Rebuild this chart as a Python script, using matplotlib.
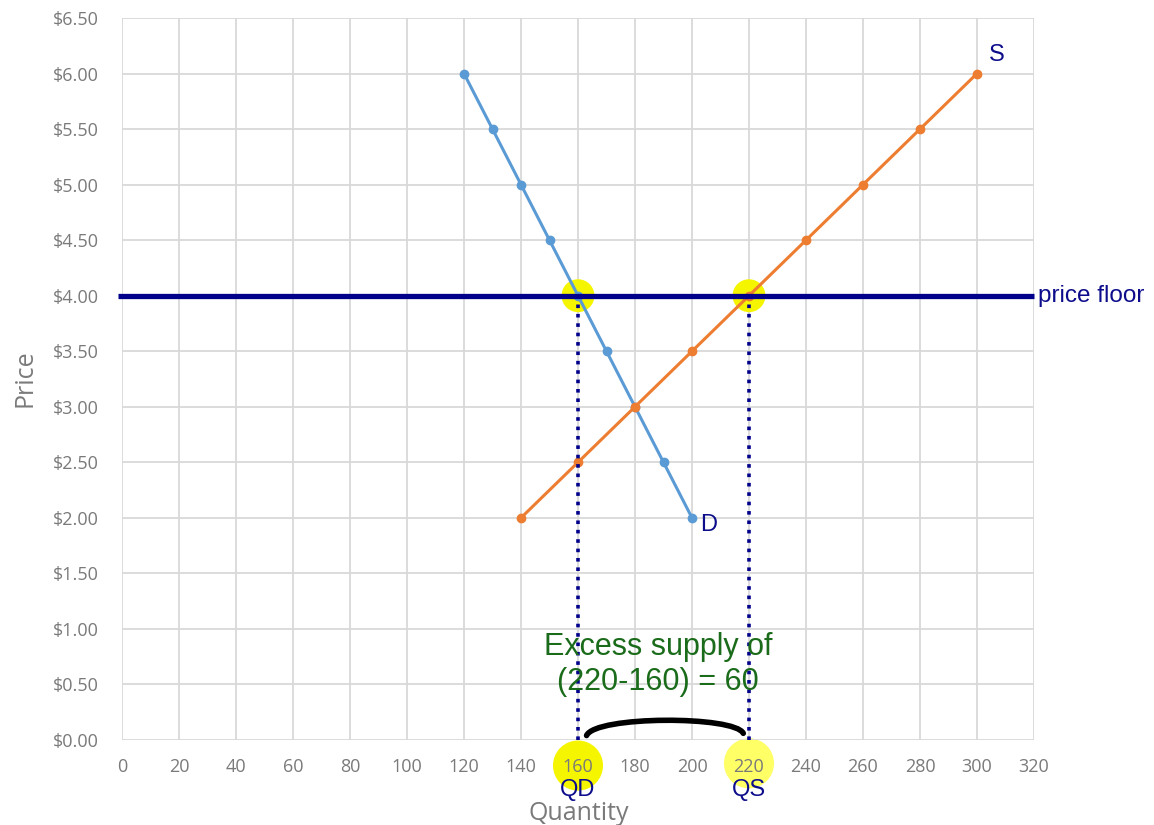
import matplotlib
matplotlib.use("Agg")
import matplotlib.pyplot as plt
from matplotlib.path import Path
import matplotlib.patches as mpatches

demand_q = [120, 130, 140, 150, 160, 170, 180, 190, 200]
demand_p = [6.0, 5.5, 5.0, 4.5, 4.0, 3.5, 3.0, 2.5, 2.0]
supply_q = [140, 160, 180, 200, 220, 240, 260, 280, 300]
supply_p = [2.0, 2.5, 3.0, 3.5, 4.0, 4.5, 5.0, 5.5, 6.0]
price_floor = 4.0
qd = 160
qs = 220
x_ticks = list(range(0, 321, 20))
y_ticks = [i * 0.5 for i in range(14)]

fig = plt.figure(figsize=(11.54, 8.25), dpi=100)
ax = fig.add_axes([122/1154, 85/825, (1034-122)/1154, (740-18)/825])
ax.set_xlim(0, 320)
ax.set_ylim(0, 6.5)
ax.set_xticks(x_ticks)
ax.set_yticks(y_ticks)
ax.set_xticklabels([str(t) for t in x_ticks])
ax.set_yticklabels([f"${t:.2f}" for t in y_ticks])
ax.tick_params(length=0, labelsize=13, labelcolor="#7a7a7a")
ax.tick_params(axis="x", pad=13)
ax.tick_params(axis="y", pad=17)
for lab in ax.get_xticklabels() + ax.get_yticklabels():
    lab.set_family("Open Sans")
ax.grid(True, color="#d9d9d9", linewidth=1.3)
ax.set_axisbelow(True)
for s in ax.spines.values():
    s.set_visible(False)

# highlight circles
ax.scatter([qd, qs], [price_floor, price_floor], s=560, color="#f5f500", zorder=2, edgecolors="none")
ax.scatter([qd], [-0.23], s=1300, color="#f5f500", zorder=0.2, edgecolors="none", clip_on=False)
ax.scatter([qs], [-0.21], s=1300, color="#ffff66", zorder=0.2, edgecolors="none", clip_on=False)

ax.plot(demand_q, demand_p, color="#5b9bd5", linewidth=2.2, marker="o", markersize=6, zorder=3)
ax.plot(supply_q, supply_p, color="#ed7d31", linewidth=2.2, marker="o", markersize=6, zorder=3)

ax.plot([-1.5, 320], [price_floor, price_floor], color="#00008b", linewidth=3.8, zorder=4,
        solid_capstyle="butt", clip_on=False)
ax.plot([qd, qd], [0, price_floor], color="#00008b", linewidth=2.6, linestyle=(0, (1, 1.6)), zorder=4)
ax.plot([qs, qs], [0, price_floor], color="#00008b", linewidth=2.6, linestyle=(0, (1, 1.6)), zorder=4)

# bracket
verts = [(163, 0.04), (166, 0.22), (215, 0.22), (218, 0.06)]
path = Path(verts, [Path.MOVETO, Path.CURVE4, Path.CURVE4, Path.CURVE4])
ax.add_patch(mpatches.PathPatch(path, fill=False, color="black", linewidth=4, capstyle="round", zorder=5))

navy = "#0d0d8c"
ax.text(321.5, price_floor, "price floor", color=navy, fontsize=17.5, family="Liberation Sans",
        va="center", ha="left", clip_on=False)
ax.text(203, 1.94, "D", color=navy, fontsize=17, family="Liberation Sans", va="center", ha="left")
ax.text(304, 6.17, "S", color=navy, fontsize=17, family="Liberation Sans", va="center", ha="left")
ax.text(qd, -0.45, "QD", color=navy, fontsize=17, family="Liberation Sans", va="center", ha="center", clip_on=False)
ax.text(qs, -0.45, "QS", color=navy, fontsize=17, family="Liberation Sans", va="center", ha="center", clip_on=False)
ax.text(188, 0.68, "Excess supply of\n(220-160) = 60", color="#1a6b1a", fontsize=22,
        family="Liberation Sans", ha="center", va="center", linespacing=1.25, zorder=6)

ax.set_xlabel("Quantity", fontsize=18, color="#7a7a7a", family="Open Sans")
ax.set_ylabel("Price", fontsize=18, color="#7a7a7a", family="Open Sans")
ax.xaxis.set_label_coords((579-122)/(1034-122), -(801-740)/722)
ax.yaxis.set_label_coords(-(122-38)/912, (740-378)/722)

fig.savefig("out.png", dpi=100)
